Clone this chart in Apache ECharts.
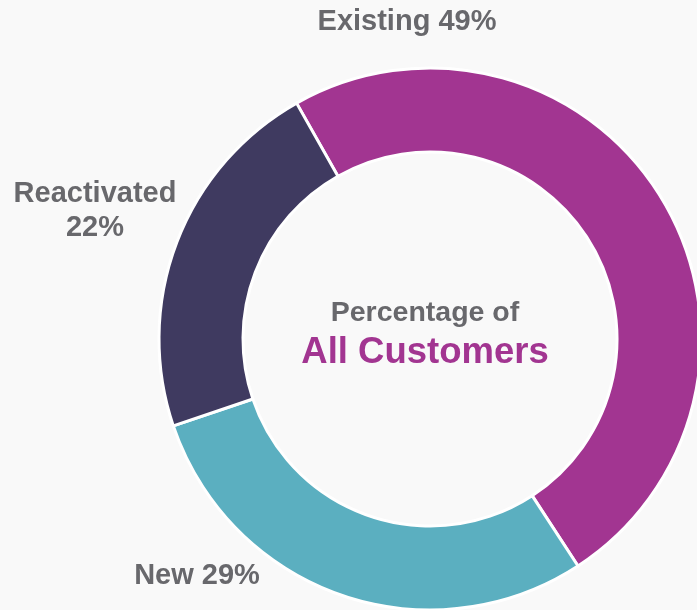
<!DOCTYPE html>
<html>
<head>
<meta charset="utf-8">
<script src="https://cdn.jsdelivr.net/npm/echarts@6/dist/echarts.min.js"></script>
<style>
html,body{margin:0;padding:0;background:#f9f9f9;}
#chart{width:697px;height:610px;}
</style>
</head>
<body>
<div id="chart"></div>
<script>
var categories = ['Existing', 'New', 'Reactivated'];
var values = [49, 29, 22];
var colors = ['#A23591', '#5BAFC0', '#3F3A60'];
var centerLine1 = 'Percentage of';
var centerLine2 = 'All Customers';

var FONT = '"Liberation Sans", Arial, Helvetica, sans-serif';
var GRAY = '#68686c';

// label anchor positions (layout only)
var labelPos = [
  {x: 407, y: 22},
  {x: 197, y: 576},
  {x: 95, y: 211}
];
var labelText = [
  function (n, v) { return n + ' ' + v + '%'; },
  function (n, v) { return n + ' ' + v + '%'; },
  function (n, v) { return n + '\n' + v + '%'; }
];

var chart = echarts.init(document.getElementById('chart'), null, {renderer: 'canvas'});
chart.setOption({
  backgroundColor: '#f9f9f9',
  animation: false,
  series: [{
    type: 'pie',
    center: [430, 339],
    radius: [187, 271],
    startAngle: 119.5,
    clockwise: true,
    avoidLabelOverlap: false,
    itemStyle: {borderColor: '#ffffff', borderWidth: 3},
    label: {
      show: true,
      position: 'outside',
      fontFamily: FONT,
      fontWeight: 'bold',
      fontSize: 29,
      lineHeight: 34,
      color: GRAY,
      align: 'center',
      formatter: function (p) { return labelText[p.dataIndex](p.name, p.value); }
    },
    labelLine: {show: false},
    labelLayout: function (p) {
      var pos = labelPos[p.dataIndex];
      return {x: pos.x, y: pos.y, align: 'center', verticalAlign: 'middle'};
    },
    emphasis: {disabled: true},
    data: categories.map(function (c, i) {
      return {name: c, value: values[i], itemStyle: {color: colors[i]}};
    })
  }],
  graphic: [
    {type: 'text', x: 425, y: 313, style: {text: centerLine1, fill: GRAY, font: 'bold 28.5px ' + FONT, textAlign: 'center', textVerticalAlign: 'middle'}},
    {type: 'text', x: 425, y: 353, style: {text: centerLine2, fill: colors[0], font: 'bold 36.5px ' + FONT, textAlign: 'center', textVerticalAlign: 'middle'}}
  ]
});
</script>
</body>
</html>
